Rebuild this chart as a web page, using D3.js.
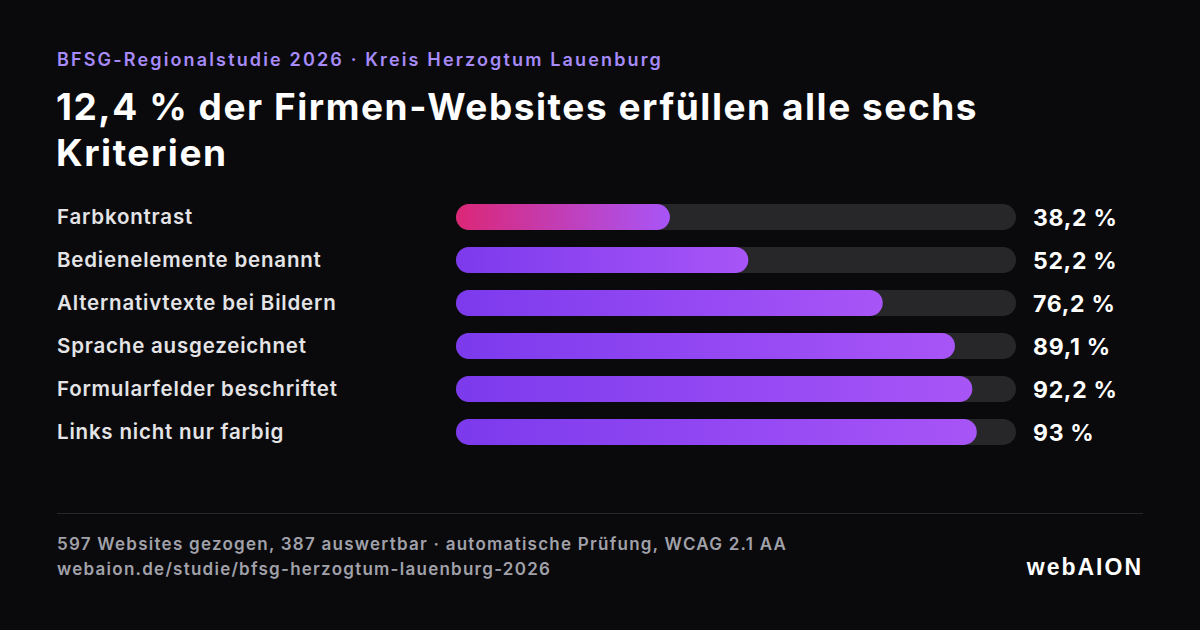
<!DOCTYPE html>
<html><head><meta charset="utf-8">
<script src="https://cdn.jsdelivr.net/npm/d3@7/dist/d3.min.js"></script>
<style>html,body{margin:0;padding:0;background:#09090b;}svg{display:block;}</style>
</head><body>
<script>
const categories = ["Farbkontrast","Bedienelemente benannt","Alternativtexte bei Bildern","Sprache ausgezeichnet","Formularfelder beschriftet","Links nicht nur farbig"];
const values = [38.2, 52.2, 76.2, 89.1, 92.2, 93];
const valueLabels = ["38,2 %","52,2 %","76,2 %","89,1 %","92,2 %","93 %"];
const kicker = "BFSG-Regionalstudie 2026 · Kreis Herzogtum Lauenburg";
const titleLines = ["12,4 % der Firmen-Websites erfüllen alle sechs","Kriterien"];
const footerLines = ["597 Websites gezogen, 387 auswertbar · automatische Prüfung, WCAG 2.1 AA","webaion.de/studie/bfsg-herzogtum-lauenburg-2026"];
const brand = "webAION";

const W=1200,H=630;
const svg=d3.select("body").append("svg").attr("width",W).attr("height",H);
svg.append("rect").attr("width",W).attr("height",H).attr("fill","#0a0a0c");
const font="Inter, 'Noto Sans', sans-serif";

const defs=svg.append("defs");
const g1=defs.append("linearGradient").attr("id","gPink").attr("x1","0").attr("x2","1").attr("y1","0").attr("y2","0");
g1.append("stop").attr("offset","0").attr("stop-color","#db2777");
g1.append("stop").attr("offset","1").attr("stop-color","#a855f7");
const g2=defs.append("linearGradient").attr("id","gPurple").attr("x1","0").attr("x2","1").attr("y1","0").attr("y2","0");
g2.append("stop").attr("offset","0").attr("stop-color","#7c3aed");
g2.append("stop").attr("offset","1").attr("stop-color","#a855f7");

svg.append("text").attr("x",57).attr("y",66).attr("fill","#a78bfa").attr("font-family",font)
  .attr("font-size",18).attr("font-weight",600).attr("letter-spacing",2.15).text(kicker);
svg.append("g").selectAll("text").data(titleLines).join("text")
  .attr("x",56).attr("y",(d,i)=>120+i*46).attr("fill","#ffffff").attr("font-family",font)
  .attr("font-size",37).attr("font-weight",700).attr("letter-spacing",1.55).text(d=>d);

const x=d3.scaleLinear().domain([0,100]).range([456,1016]);
const y=d3.scaleBand().domain(categories).range([195.5,453.5]).paddingInner(0.395).paddingOuter(0.2);
const bh=26;
const rows=svg.append("g").selectAll("g").data(categories).join("g")
  .attr("transform",d=>`translate(0,${y(d)+y.bandwidth()/2})`);
rows.append("text").attr("x",57).attr("y",0).attr("dy","0.35em").attr("fill","#e4e4e7")
  .attr("font-family",font).attr("font-size",20.5).attr("font-weight",600).attr("letter-spacing",0.8).text(d=>d);
rows.append("rect").attr("x",x(0)).attr("y",-bh/2).attr("width",x(100)-x(0)).attr("height",bh)
  .attr("rx",bh/2).attr("fill","#27272a");
rows.append("rect").attr("x",x(0)).attr("y",-bh/2).attr("width",(d,i)=>x(values[i])-x(0)).attr("height",bh)
  .attr("rx",bh/2).attr("fill",(d,i)=>i===0?"url(#gPink)":"url(#gPurple)");
rows.append("text").attr("x",1033).attr("y",0).attr("dy","0.38em").attr("fill","#ffffff")
  .attr("font-family",font).attr("font-size",23).attr("font-weight",700).attr("letter-spacing",0.7).text((d,i)=>valueLabels[i]);

svg.append("line").attr("x1",57).attr("x2",1143).attr("y1",513.5).attr("y2",513.5).attr("stroke","#27272a").attr("stroke-width",1);
svg.append("g").selectAll("text").data(footerLines).join("text")
  .attr("x",57).attr("y",(d,i)=>550+i*25).attr("fill","#a1a1aa").attr("font-family",font)
  .attr("font-size",17).attr("font-weight",600).attr("letter-spacing",1.25).text(d=>d);
svg.append("text").attr("x",1143).attr("y",575).attr("text-anchor","end").attr("fill","#ffffff")
  .attr("font-family","'Liberation Sans', Arial, sans-serif").attr("font-size",23).attr("font-weight",700).attr("letter-spacing",2).text(brand);
</script>
</body></html>
